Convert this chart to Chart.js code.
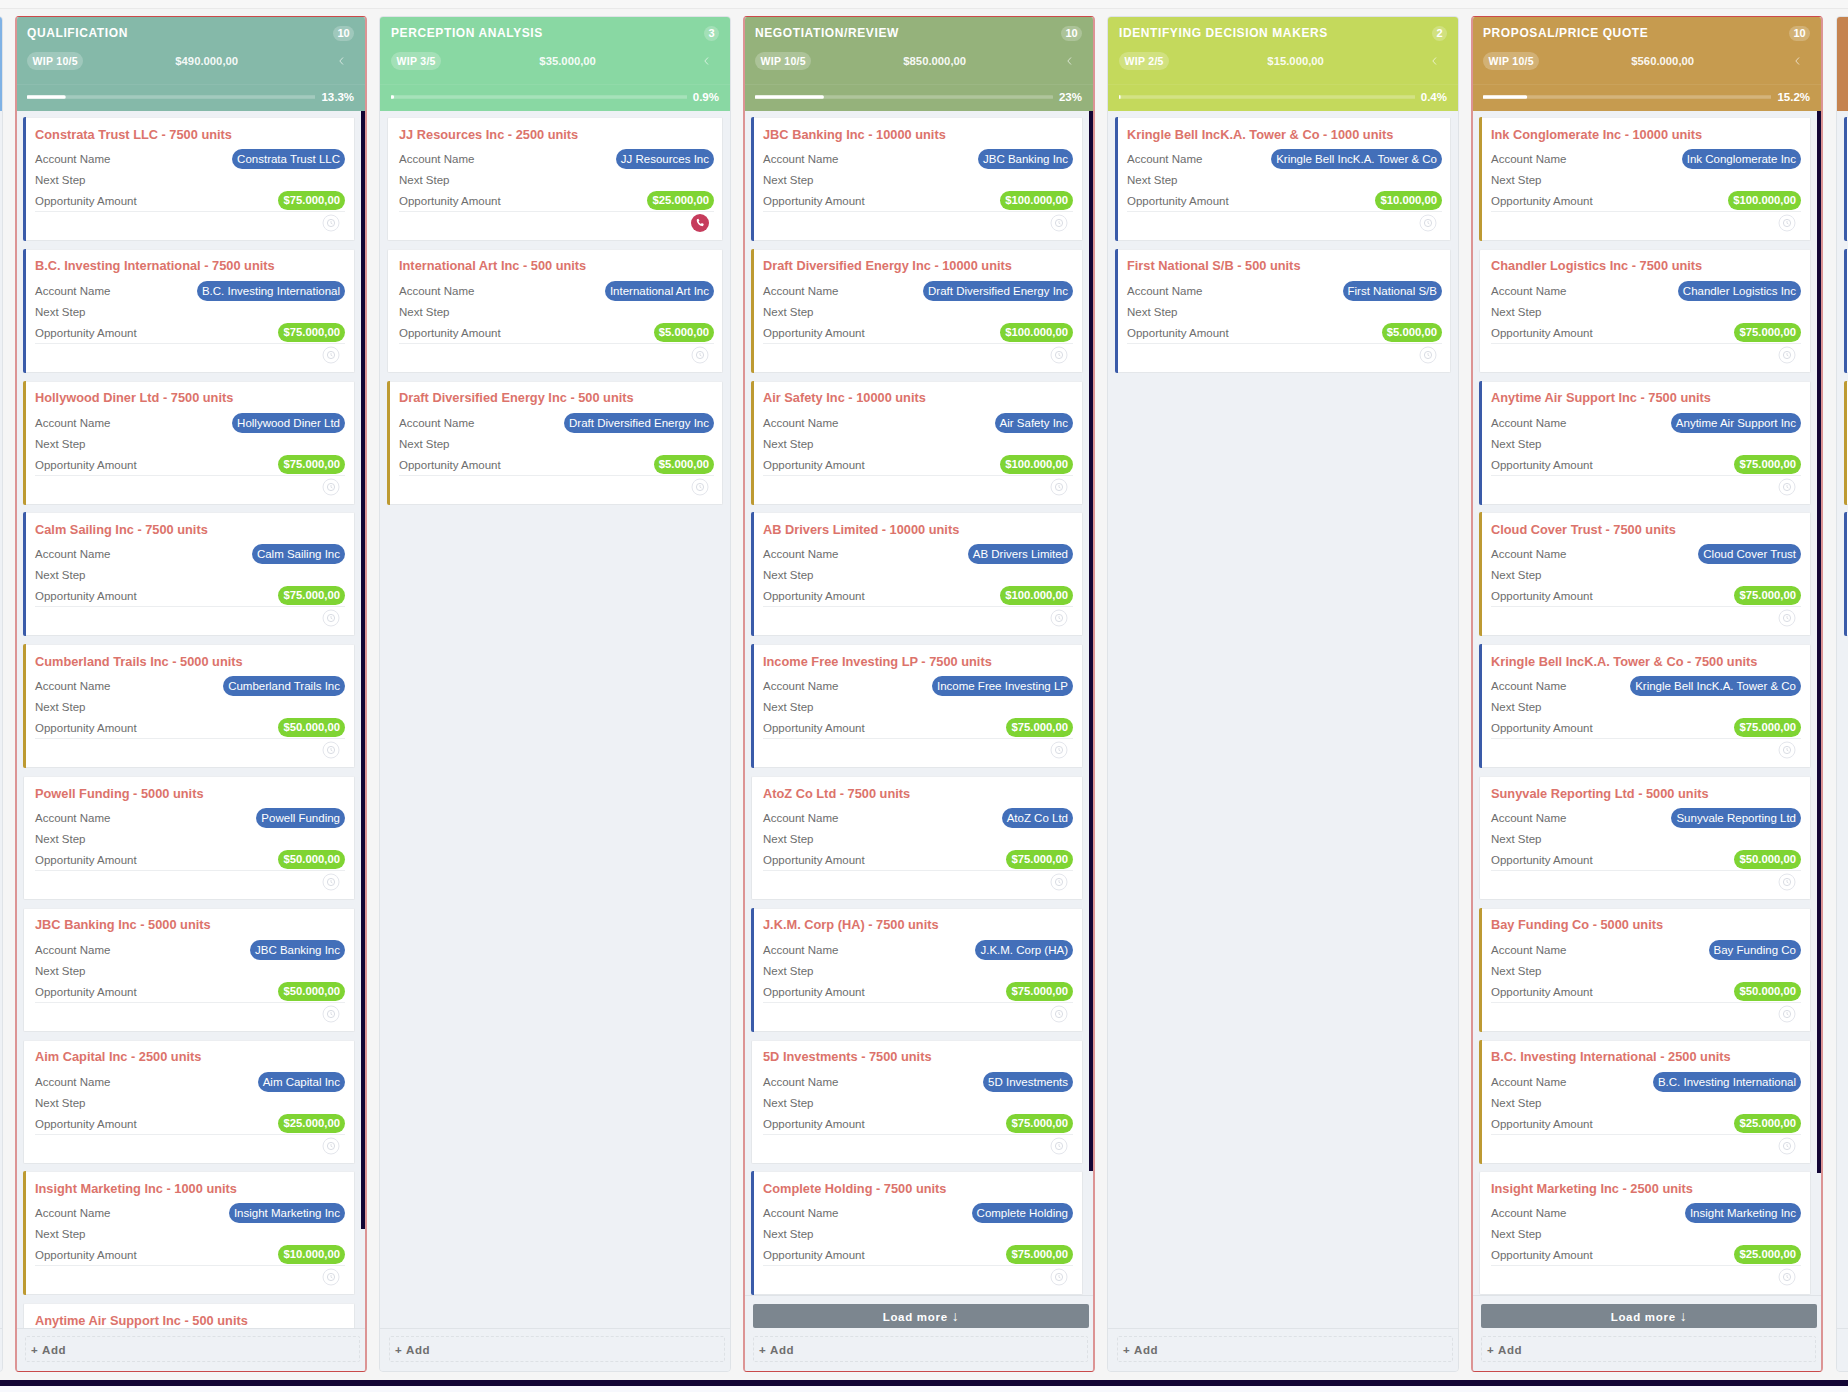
<!DOCTYPE html>
<html>
<head>
<meta charset="utf-8">
<title>Opportunity board</title>
<script src="https://cdn.jsdelivr.net/npm/chart.js@4"></script>
<style>
html, body { margin: 0; padding: 0; background: #f5f5f5; width: 1848px; height: 1392px; overflow: hidden; font-family: "Liberation Sans", Arial, sans-serif; }
#topline { position: absolute; left: 0; top: 0; width: 1848px; height: 9px; background: #f7f7f7; border-bottom: 1px solid #e9e9e9; box-sizing: border-box; }
#bottombar { position: absolute; left: 0; top: 1380px; width: 1848px; height: 6px; background: #120535; }
#bottomrest { position: absolute; left: 0; top: 1386px; width: 1848px; height: 6px; background: #f7f8fd; }
#board { position: absolute; left: 0; top: 16px; width: 1848px; height: 1356px; overflow: hidden; }
.col { position: absolute; top: 0; width: 352px; height: 1356px; background: #eef1f5; border: 1px solid #dfe3e7; border-radius: 4px; box-sizing: border-box; overflow: hidden; }
.col.over { border: 2px solid #dc9494; border-top: 1px solid #cc4a4a; border-bottom: 1px solid #c94a4a; }
.head { position: absolute; left: 0; top: 0; right: 0; height: 94px; color: #fff; }
.head .title { position: absolute; left: 11px; top: 8px; font-size: 12px; line-height: 16px; font-weight: bold; letter-spacing: 0.6px; white-space: nowrap; }
.col.over .head .title { left: 10px; }
.head .badge { position: absolute; right: 11px; top: 9px; height: 15px; min-width: 15px; padding: 0 3px; box-sizing: content-box; border-radius: 8px; background: rgba(255,255,255,0.22); font-size: 11px; line-height: 15px; font-weight: bold; text-align: center; }
.head .badge.one { padding: 0; }
.head .hrow { position: absolute; left: 11px; top: 35px; width: 303px; height: 18px; display: flex; }
.col.over .head .hrow { left: 10px; }
.head .wip { height: 18px; padding: 0 5.500px; border-radius: 9px; background: rgba(255,255,255,0.22); font-size: 10.5px; line-height: 18px; font-weight: bold; letter-spacing: 0.3px; white-space: nowrap; }
.head .total { flex: 1; text-align: center; font-size: 11.3px; line-height: 18px; font-weight: bold; color: rgba(255,255,255,0.93); }
.head .chev { position: absolute; right: 20px; top: 39px; width: 7px; height: 10px; }
.head .rule { position: absolute; left: 0; right: 0; top: 67px; height: 1px; background: rgba(255,255,255,0.07); }
.head .progress { position: absolute; left: 11px; right: 11px; top: 73px; height: 14px; display: flex; align-items: center; }
.col.over .head .progress { left: 10px; right: 11px; }
.head .barwrap { position: relative; flex: 1; min-width: 0; width: 0; height: 8px; margin-right: 6px; }
.head .pct { font-size: 11.5px; line-height: 14px; font-weight: bold; white-space: nowrap; }
.list { position: absolute; left: 0; right: 0; top: 94px; bottom: 43px; overflow: hidden; }
.col.more .list { bottom: 76px; }
.card { position: absolute; left: 7px; right: 7px; height: 124px; background: #fff; border: 1px solid #e4e7ea; border-top-color: #eceef1; border-radius: 2px; box-sizing: border-box; }
.col.tall .card { left: 6px; right: 10px; }
.card .accent { position: absolute; left: -1px; top: -1px; bottom: -1px; width: 3px; border-radius: 2px 0 0 2px; }
.card .name { position: absolute; left: 11px; top: 8.500px; font-size: 12.8px; line-height: 16px; font-weight: bold; color: #dc736b; white-space: nowrap; }
.card .lab { position: absolute; left: 11px; font-size: 11.5px; line-height: 16px; color: #6d6d6d; white-space: nowrap; }
.card .pill { position: absolute; right: 8px; height: 20px; padding: 0 5px; border-radius: 10px; font-size: 11.5px; line-height: 20px; color: #fff; white-space: nowrap; }
.col.tall .card .pill { right: 9px; }
.card .pill.acc { background: #436fb9; top: 31px; }
.card .pill.amt { background: #7fd433; top: 73px; height: 19px; line-height: 19px; font-weight: bold; font-size: 11.3px; }
.card .line { position: absolute; left: 11px; right: 8px; top: 93px; height: 1px; background: #eceef0; }
.col.tall .card .line { right: 9px; }
.card svg.ico { position: absolute; right: 13px; top: 96px; width: 18px; height: 18px; }
.col.tall .card svg.ico { right: 14px; }
.load { position: absolute; left: 8px; right: 4px; bottom: 43px; height: 24px; border-radius: 2px; background: #7c868f; color: #fff; font-size: 11.5px; line-height: 24px; font-weight: bold; letter-spacing: 0.7px; text-align: center; }
.load span { font-size: 14px; }
.foot { position: absolute; left: 0; right: 0; bottom: 0; height: 43px; background: #eef1f5; border-top: 1px solid #dfe3e7; box-sizing: border-box; }
.col.more .foot { height: 76px; }
.foot .add { position: absolute; left: 9px; right: 5px; bottom: 9px; height: 26px; border: 1px dashed #dde1e5; border-radius: 2px; box-sizing: border-box; padding-left: 5px; font-size: 11.5px; line-height: 26px; font-weight: bold; letter-spacing: 0.7px; color: #6f6f6f; }
.col.over .foot .add { left: 8px; }
.sbar { position: absolute; right: 0; top: 94px; width: 4px; background: #120535; }
</style>
</head>
<body>
<div id="topline"></div>
<div id="board"></div>
<div id="bottombar"></div>
<div id="bottomrest"></div>

<script>
// stage headers
var stageNames = ["QUALIFICATION", "PERCEPTION ANALYSIS", "NEGOTIATION/REVIEW", "IDENTIFYING DECISION MAKERS", "PROPOSAL/PRICE QUOTE"];
var stageCounts = [10, 3, 10, 2, 10];
var stageWip = [10, 3, 10, 2, 10];
var wipLimit = 5;
var stageTotals = [490000, 35000, 850000, 15000, 560000];
var stagePercents = [13.3, 0.9, 23, 0.4, 15.2];
var stageColors = ["#85b9a9", "#89d8a3", "#95b27b", "#c4d95c", "#c69b4f"];
var stageHasMore = [false, false, true, false, true];

// cards, one set of lists per stage
var qualNames = ["Constrata Trust LLC", "B.C. Investing International", "Hollywood Diner Ltd", "Calm Sailing Inc", "Cumberland Trails Inc", "Powell Funding", "JBC Banking Inc", "Aim Capital Inc", "Insight Marketing Inc", "Anytime Air Support Inc"];
var qualUnits = [7500, 7500, 7500, 7500, 5000, 5000, 5000, 2500, 1000, 500];
var qualAmounts = [75000, 75000, 75000, 75000, 50000, 50000, 50000, 25000, 10000, 5000];
var qualRating = ["hot", "hot", "warm", "hot", "warm", "", "", "", "warm", ""];

var percNames = ["JJ Resources Inc", "International Art Inc", "Draft Diversified Energy Inc"];
var percUnits = [2500, 500, 500];
var percAmounts = [25000, 5000, 5000];
var percRating = ["", "", "warm"];

var negoNames = ["JBC Banking Inc", "Draft Diversified Energy Inc", "Air Safety Inc", "AB Drivers Limited", "Income Free Investing LP", "AtoZ Co Ltd", "J.K.M. Corp (HA)", "5D Investments", "Complete Holding"];
var negoUnits = [10000, 10000, 10000, 10000, 7500, 7500, 7500, 7500, 7500];
var negoAmounts = [100000, 100000, 100000, 100000, 75000, 75000, 75000, 75000, 75000];
var negoRating = ["hot", "warm", "warm", "hot", "hot", "", "hot", "", "hot"];

var idenNames = ["Kringle Bell IncK.A. Tower & Co", "First National S/B"];
var idenUnits = [1000, 500];
var idenAmounts = [10000, 5000];
var idenRating = ["hot", "hot"];

var propNames = ["Ink Conglomerate Inc", "Chandler Logistics Inc", "Anytime Air Support Inc", "Cloud Cover Trust", "Kringle Bell IncK.A. Tower & Co", "Sunyvale Reporting Ltd", "Bay Funding Co", "B.C. Investing International", "Insight Marketing Inc"];
var propUnits = [10000, 7500, 7500, 7500, 7500, 5000, 5000, 2500, 2500];
var propAmounts = [100000, 75000, 75000, 75000, 75000, 50000, 50000, 25000, 25000];
var propRating = ["warm", "", "hot", "warm", "hot", "", "warm", "warm", ""];

var cardNames = [qualNames, percNames, negoNames, idenNames, propNames];
var cardUnits = [qualUnits, percUnits, negoUnits, idenUnits, propUnits];
var cardAmounts = [qualAmounts, percAmounts, negoAmounts, idenAmounts, propAmounts];
var cardRatings = [qualRating, percRating, negoRating, idenRating, propRating];

// the stage with the call pending: stage 1, card 0
var callStage = 1;
var callCard = 0;

// how far each dark scrollbar reaches
var scrollHeights = [1118, 0, 1060, 0, 1062];

var ratingColors = { hot: "#3a5ba9", warm: "#bd9a32" };

var clockIcon = '<svg class="ico" viewBox="0 0 18 18"><circle cx="9" cy="9" r="8" fill="#fff" stroke="#e4e6ec" stroke-width="1"/><circle cx="9" cy="9" r="3.6" fill="none" stroke="#d5d8e0" stroke-width="0.9"/><path d="M9 7v2.2l1.4 .8" fill="none" stroke="#d5d8e0" stroke-width="0.8"/></svg>';
var phoneIcon = '<svg class="ico" viewBox="0 0 18 18"><circle cx="9" cy="9" r="9" fill="#c63c5c"/><path d="M6 5.2l1.4-.5 1 2-.8 .8c.4 1 1.2 1.9 2.4 2.4l.8-.8 2 1-.5 1.4c-.3 .5-.8 .7-1.4 .6-2.600-.5-4.600-2.500-5.100-5.100-.1-.6 .1-1.300 .2-1.800z" fill="#fff"/></svg>';
var chevIcon = '<svg class="chev" viewBox="0 0 7 10"><path d="M5 1.500L1.800 5 5 8.500" fill="none" stroke="rgba(255,255,255,0.65)" stroke-width="1"/></svg>';

var board = document.getElementById("board");
var colPitch = 364;
var cardPitch = 131.8;
var visibleRows = 9; // a tenth card only shows its title above the footer

function money(v) {
	return "$" + v.toLocaleString("de-DE", { minimumFractionDigits: 2, maximumFractionDigits: 2 });
}

function esc(s) {
	return s.replace(/&/g, "&amp;");
}

function addColumn(left, color, extraClass) {
	var c = document.createElement("div");
	c.className = "col " + extraClass;
	c.style.left = left + "px";
	c.innerHTML = '<div class="head" style="background:' + color + '"></div><div class="list"></div><div class="foot"></div>';
	board.appendChild(c);
	return c;
}

function cardHtml(s, i) {
	var rating = cardRatings[s][i];
	var html = '<div class="card" style="top:' + (6 + i * cardPitch) + 'px">';
	if (rating) html += '<div class="accent" style="background:' + ratingColors[rating] + '"></div>';
	html += '<div class="name">' + esc(cardNames[s][i]) + " - " + cardUnits[s][i] + ' units</div>';
	if (i < visibleRows) {
		html += '<div class="lab" style="top:33px">Account Name</div>';
		html += '<div class="pill acc">' + esc(cardNames[s][i]) + '</div>';
		html += '<div class="lab" style="top:54px">Next Step</div>';
		html += '<div class="lab" style="top:75px">Opportunity Amount</div>';
		html += '<div class="pill amt">' + money(cardAmounts[s][i]) + '</div>';
		html += '<div class="line"></div>';
		html += (s == callStage && i == callCard) ? phoneIcon : clockIcon;
	}
	html += '</div>';
	return html;
}

// the two stages cut off by the window edges
addColumn(15 - colPitch, "#7fb2e5", "");
var lastCol = addColumn(15 + 5 * colPitch + 1, "#c5834f", "");
var lastRatings = ["hot", "hot", "warm", "hot"];
var lastHtml = "";
for (var k = 0; k < lastRatings.length; k++) {
	lastHtml += '<div class="card" style="top:' + (6 + k * cardPitch) + 'px"><div class="accent" style="background:' + ratingColors[lastRatings[k]] + '"></div></div>';
}
lastCol.querySelector(".list").innerHTML = lastHtml;

for (var s = 0; s < stageNames.length; s++) {
	var over = stageWip[s] > wipLimit;
	var cls = (over ? "over " : "") + (scrollHeights[s] ? "tall " : "") + (stageHasMore[s] ? "more" : "");
	var col = addColumn(15 + s * colPitch, stageColors[s], cls);

	col.querySelector(".head").innerHTML =
		'<div class="title">' + stageNames[s] + '</div>' +
		'<div class="badge' + (stageCounts[s] < 10 ? ' one' : '') + '">' + stageCounts[s] + '</div>' +
		'<div class="hrow"><div class="wip">WIP ' + stageWip[s] + '/' + wipLimit + '</div>' +
		'<div class="total">' + money(stageTotals[s]) + '</div></div>' + chevIcon +
		'<div class="rule"></div>' +
		'<div class="progress"><div class="barwrap"><canvas id="bar' + s + '"></canvas></div><div class="pct">' + stagePercents[s] + '%</div></div>';

	var html = "";
	for (var i = 0; i < cardNames[s].length; i++) {
		html += cardHtml(s, i);
	}
	col.querySelector(".list").innerHTML = html;

	col.querySelector(".foot").innerHTML = '<div class="add">+ Add</div>';
	if (stageHasMore[s]) {
		var load = document.createElement("div");
		load.className = "load";
		load.innerHTML = 'Load more <span>↓</span>';
		col.appendChild(load);
	}
	if (scrollHeights[s]) {
		var sb = document.createElement("div");
		sb.className = "sbar";
		sb.style.height = scrollHeights[s] + "px";
		col.appendChild(sb);
	}
}

// progress bars are small horizontal bar charts
for (var b = 0; b < stageNames.length; b++) {
	new Chart(document.getElementById("bar" + b), {
		type: "bar",
		data: {
			labels: [stageNames[b]],
			datasets: [
				{ data: [stagePercents[b]], backgroundColor: "#ffffff", barThickness: 3, borderRadius: 2, borderSkipped: false, order: 0 },
				{ data: [100], backgroundColor: "rgba(255,255,255,0.25)", barThickness: 3, borderRadius: 2, borderSkipped: false, order: 1 }
			]
		},
		options: {
			indexAxis: "y",
			responsive: true,
			maintainAspectRatio: false,
			animation: false,
			layout: { padding: 0 },
			plugins: { legend: { display: false }, tooltip: { enabled: false } },
			datasets: { bar: { grouped: false } },
			scales: {
				x: { display: false, min: 0, max: 100 },
				y: { display: false }
			}
		}
	});
}
</script>
</body>
</html>
